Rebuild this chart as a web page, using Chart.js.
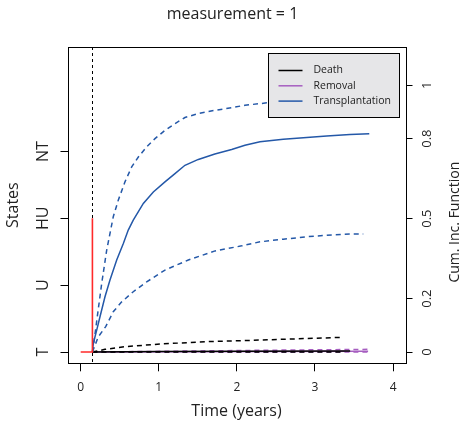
<!DOCTYPE html>
<html>
<head>
<meta charset="utf-8">
<script src="https://cdn.jsdelivr.net/npm/chart.js@4.4.1/dist/chart.umd.min.js"></script>
<style>
  html, body { margin: 0; padding: 0; background: #fff; }
</style>
</head>
<body>
<canvas id="cifChart" width="465" height="430"></canvas>
<script>
// ── Data ─────────────────────────────────────────────────────────────────────
const TITLE        = 'measurement = 1';
const MEAS_TIME    = 0.15;                       // dashed vertical line
const STATE_LABELS = ['T', 'U', 'HU', 'NT'];     // states 1..4
const X_TICKS      = [0, 1, 2, 3, 4];
const CIF_TICKS    = [0, 0.2, 0.5, 0.8, 1];
const CIF_LABELS   = ['0', '0.2', '0.5', '0.8', '1'];
const LEGEND_ORDER = ['Death', 'Removal', 'Transplantation'];

// observed state path: T until the measurement, then HU
const PATH_T = [0, 0.15, 0.15];
const PATH_S = [1, 1, 3];

// Transplantation CIF + band
const TX_T    = [0.15, 0.162, 0.205, 0.247, 0.311, 0.375, 0.461, 0.546, 0.609, 0.673, 0.802, 0.930,
                 1.079, 1.207, 1.335, 1.506, 1.718, 1.933, 2.103, 2.296, 2.594, 2.894, 3.150, 3.448, 3.695];
const TX_EST  = [0, 0.033, 0.082, 0.132, 0.207, 0.270, 0.345, 0.407, 0.457, 0.494, 0.557, 0.600,
                 0.638, 0.669, 0.700, 0.722, 0.742, 0.759, 0.775, 0.788, 0.798, 0.804, 0.810, 0.815, 0.818];
const TX_UP_T = [0.15, 0.18, 0.218, 0.269, 0.333, 0.417, 0.481, 0.567, 0.653, 0.738, 0.845, 0.951,
                 1.079, 1.207, 1.335, 1.506, 1.718, 1.933, 2.103, 2.382, 2.80, 3.20, 3.62];
const TX_UP   = [0, 0.06, 0.145, 0.257, 0.382, 0.507, 0.569, 0.638, 0.694, 0.731, 0.769, 0.800,
                 0.831, 0.856, 0.879, 0.894, 0.906, 0.916, 0.925, 0.934, 0.942, 0.947, 0.950];
const TX_LO_T = [0.15, 0.225, 0.320, 0.417, 0.525, 0.673, 0.845, 1.079, 1.378, 1.720, 2.061, 2.296,
                 2.594, 2.894, 3.150, 3.448, 3.618];
const TX_LO   = [0, 0.057, 0.095, 0.151, 0.188, 0.226, 0.263, 0.307, 0.345, 0.379, 0.398, 0.413,
                 0.423, 0.432, 0.438, 0.442, 0.442];

// Death CIF + band
const DE_T    = [0.15, 1.0, 2.0, 3.45];
const DE_EST  = [0, 0.002, 0.003, 0.004];
const DE_UP_T = [0.15, 0.311, 0.567, 1.015, 1.634, 1.997, 2.722, 3.362];
const DE_UP   = [0, 0.010, 0.020, 0.030, 0.039, 0.042, 0.049, 0.055];
const DE_LO_T = [0.15, 3.362];
const DE_LO   = [0, 0];

// Removal CIF + band
const RM_T    = [0.15, 1.5, 2.5, 3.68];
const RM_EST  = [0, 0.001, 0.002, 0.003];
const RM_UP   = [0, 0.004, 0.007, 0.010];
const RM_LO_T = [0.15, 3.68];
const RM_LO   = [0, 0];

// ── Styles ────────────────────────────────────────────────────────────────────
const FONT   = "'Open Sans', 'Noto Sans', sans-serif";
const INK    = '#222';
const COLORS = { Death: '#000000', Removal: '#a65ec0', Transplantation: '#2458a8', path: '#ff2a2a' };
const DASH   = [5, 4];

const pts = (ts, vs) => ts.map((t, i) => ({ x: t, y: vs[i] }));

function curve(label, ts, vs, dashed, legend) {
  return {
    label,
    data: pts(ts, vs),
    yAxisID: 'y2',
    borderColor: COLORS[label],
    borderWidth: 1.5,
    borderDash: dashed ? DASH : [],
    pointRadius: 0,
    tension: 0,
    legendEntry: legend,
  };
}

// first dataset is drawn on top
const datasets = [
  { label: 'path', data: pts(PATH_T, PATH_S), yAxisID: 'y', borderColor: COLORS.path,
    borderWidth: 1.6, pointRadius: 0, tension: 0 },
  curve('Transplantation', TX_T, TX_EST, false, true),
  curve('Transplantation', TX_UP_T, TX_UP, true, false),
  curve('Transplantation', TX_LO_T, TX_LO, true, false),
  curve('Death', DE_T, DE_EST, false, true),
  curve('Death', DE_UP_T, DE_UP, true, false),
  curve('Death', DE_LO_T, DE_LO, true, false),
  curve('Removal', RM_T, RM_EST, false, true),
  curve('Removal', RM_T, RM_UP, true, false),
  curve('Removal', RM_LO_T, RM_LO, true, false),
];

// ── Plugins ───────────────────────────────────────────────────────────────────
const plotBox = {
  id: 'plotBox',
  beforeDatasetsDraw(chart) {
    const { ctx, chartArea: a, scales } = chart;
    const x = Math.round(scales.x.getPixelForValue(MEAS_TIME)) + 0.5;
    ctx.save();
    ctx.strokeStyle = '#000';
    ctx.lineWidth = 1;
    ctx.setLineDash([3, 3]);
    ctx.beginPath();
    ctx.moveTo(x, a.top);
    ctx.lineTo(x, a.bottom);
    ctx.stroke();
    ctx.restore();
  },
  afterDatasetsDraw(chart) {
    const { ctx, chartArea: a } = chart;
    ctx.save();
    ctx.strokeStyle = '#000';
    ctx.lineWidth = 1;
    ctx.strokeRect(Math.round(a.left) + 0.5, Math.round(a.top) + 0.5,
                   Math.round(a.right - a.left), Math.round(a.bottom - a.top));
    ctx.restore();
  },
};

const boxLegend = {
  id: 'boxLegend',
  afterDatasetsDraw(chart) {
    const { ctx, chartArea: a } = chart;
    const x0 = Math.round(a.right - 138) + 0.5, y0 = Math.round(a.top + 6) + 0.5;
    const w = 131, h = 64;
    ctx.save();
    ctx.fillStyle = '#e6e6e8';
    ctx.fillRect(x0, y0, w, h);
    ctx.strokeStyle = '#000';
    ctx.lineWidth = 1;
    ctx.strokeRect(x0, y0, w, h);
    ctx.font = `10.5px ${FONT}`;
    ctx.textBaseline = 'middle';
    ctx.textAlign = 'left';
    LEGEND_ORDER.forEach((name, i) => {
      const ds = chart.data.datasets.find(d => d.legendEntry && d.label === name);
      const y = y0 + 17 + i * 15.3;
      ctx.strokeStyle = ds.borderColor;
      ctx.lineWidth = 1.5;
      ctx.beginPath();
      ctx.moveTo(x0 + 10, y);
      ctx.lineTo(x0 + 34, y);
      ctx.stroke();
      ctx.fillStyle = INK;
      ctx.fillText(name, x0 + 45, y);
    });
    ctx.restore();
  },
};

const rightTitle = {
  id: 'rightTitle',
  afterDraw(chart) {
    const { ctx, chartArea: a, scales } = chart;
    ctx.save();
    ctx.translate(scales.y2.right - 10, (a.top + a.bottom) / 2 + 17);
    ctx.rotate(-Math.PI / 2);
    ctx.font = `14px ${FONT}`;
    ctx.fillStyle = INK;
    ctx.textAlign = 'center';
    ctx.textBaseline = 'middle';
    ctx.fillText('Cum. Inc. Function', 0, 0);
    ctx.restore();
  },
};

// ── Chart ─────────────────────────────────────────────────────────────────────
Chart.defaults.font.family = FONT;
Chart.defaults.color = INK;

const tickGrid = { drawOnChartArea: false, drawTicks: true, tickLength: 7, color: '#000', lineWidth: 1 };

new Chart(document.getElementById('cifChart').getContext('2d'), {
  type: 'line',
  data: { datasets },
  plugins: [plotBox, boxLegend, rightTitle],
  options: {
    responsive: false,
    animation: false,
    layout: { padding: 0 },
    plugins: {
      legend: { display: false },
      tooltip: { enabled: false },
      title: {
        display: true, text: TITLE, color: INK,
        font: { size: 16, weight: 'normal' },
        padding: { top: 5, bottom: 22.8 },
      },
    },
    scales: {
      x: {
        type: 'linear', position: 'bottom', min: -0.169, max: 4.159,
        afterBuildTicks: s => { s.ticks = X_TICKS.map(v => ({ value: v })); },
        ticks: { callback: v => String(v), font: { size: 12 }, color: INK, padding: 9, maxRotation: 0 },
        grid: { ...tickGrid, tickLength: 8 },
        border: { display: false },
        title: { display: true, text: 'Time (years)', color: INK, font: { size: 16 }, padding: { top: 0, bottom: 9.4 } },
        afterFit: s => { s.height = 66.7; },
      },
      y: {
        type: 'linear', position: 'left', min: 0.831, max: 5.564,
        afterBuildTicks: s => { s.ticks = STATE_LABELS.map((_, i) => ({ value: i + 1 })); },
        ticks: { callback: v => STATE_LABELS[v - 1], font: { size: 16 }, color: INK,
                 minRotation: 90, maxRotation: 90, crossAlign: 'center', padding: 5 },
        grid: tickGrid,
        border: { display: false },
        title: { display: true, text: 'States', color: INK, font: { size: 16 }, padding: { top: 4, bottom: 0 } },
        afterFit: s => { s.width = 67.5; },
      },
      y2: {
        type: 'linear', position: 'right', min: -0.0423, max: 1.1434,
        afterBuildTicks: s => { s.ticks = CIF_TICKS.map(v => ({ value: v })); },
        ticks: { callback: (v, i) => CIF_LABELS[i], font: { size: 13 }, color: INK,
                 minRotation: 90, maxRotation: 90, crossAlign: 'center', padding: 6 },
        grid: tickGrid,
        border: { display: false },
        afterFit: s => { s.width = 59.5; },
      },
    },
  },
});
</script>
</body>
</html>
